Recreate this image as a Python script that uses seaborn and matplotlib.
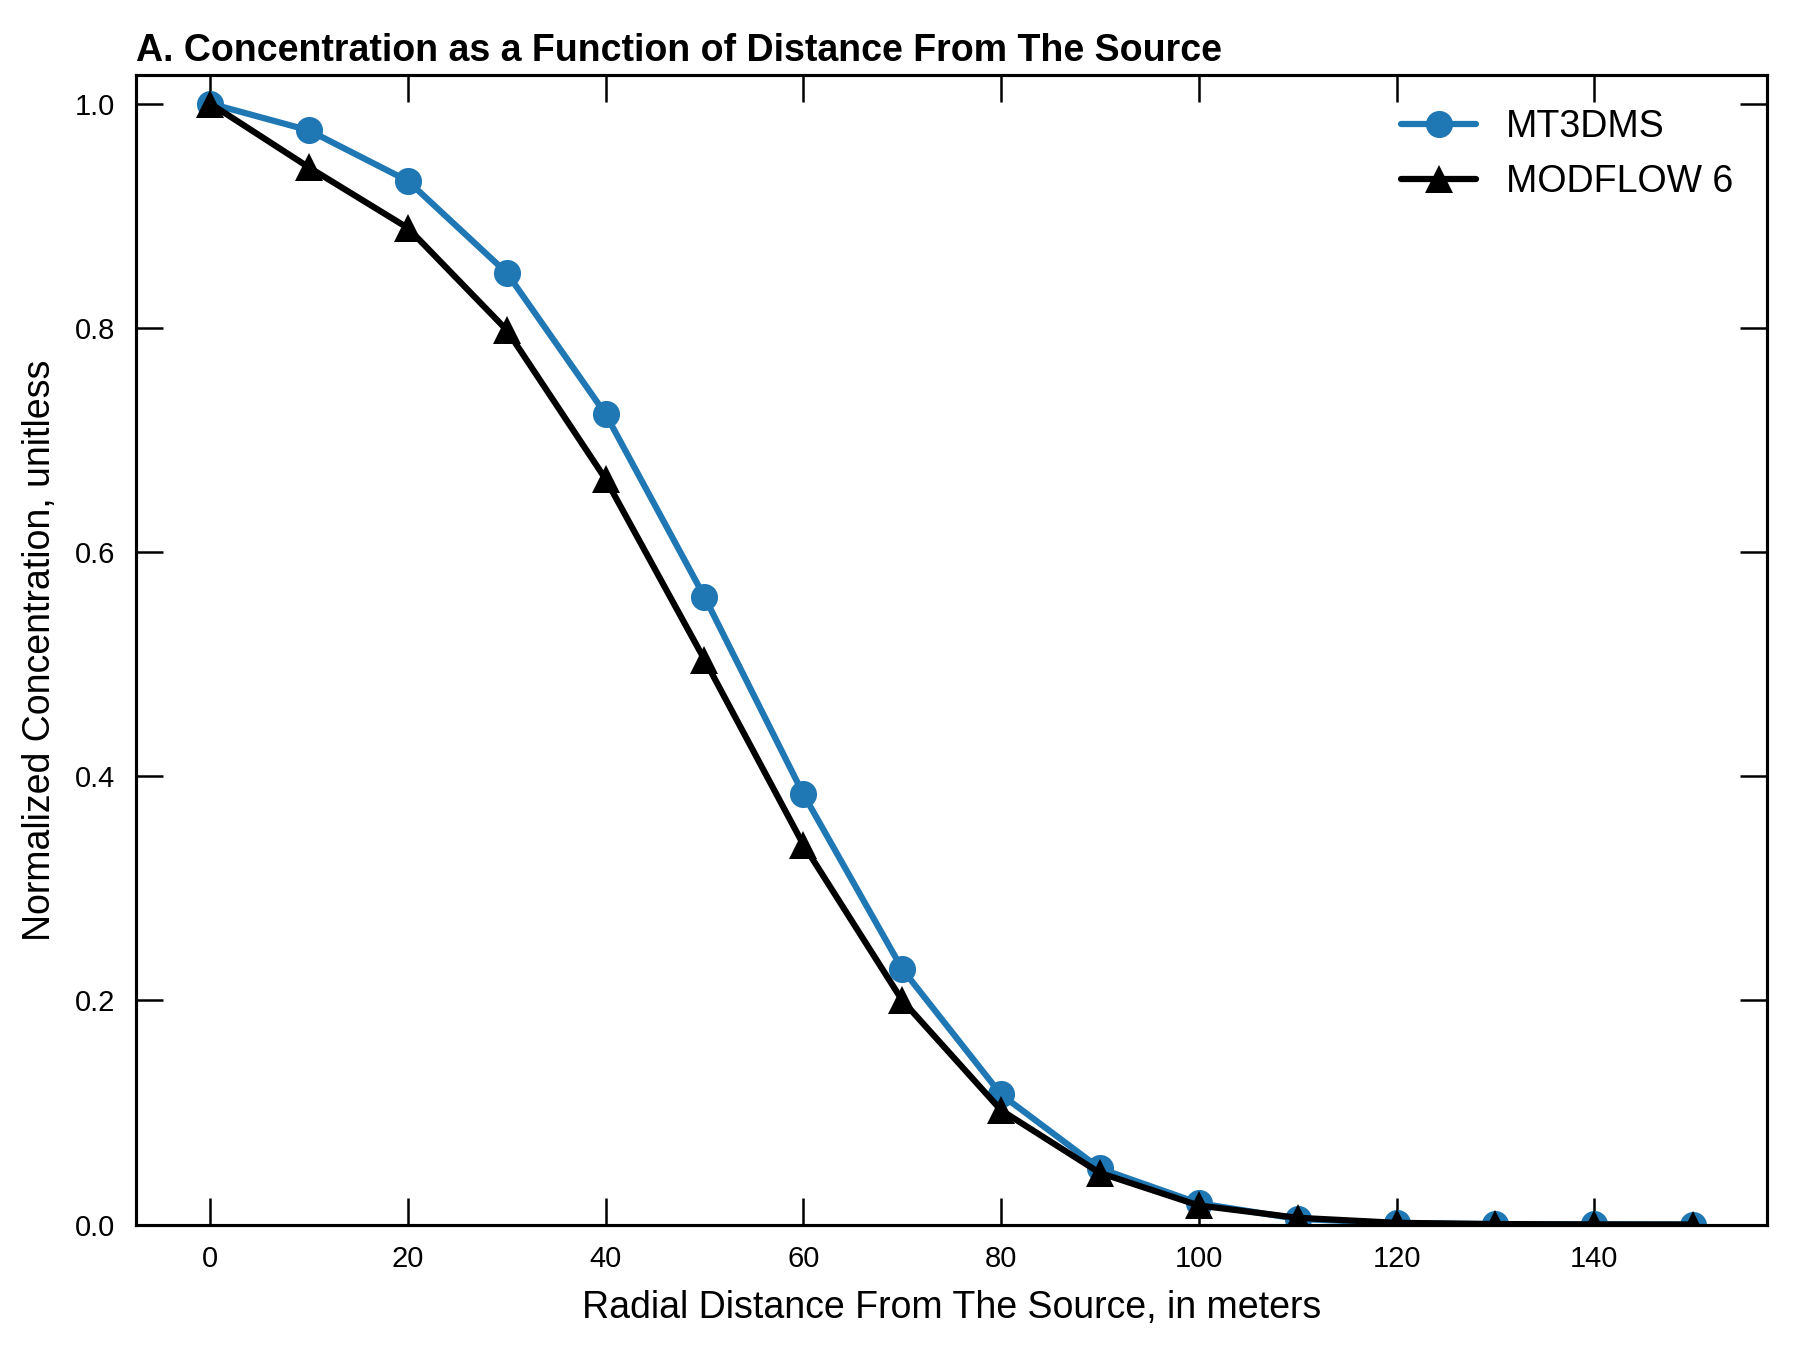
import pandas as pd
import matplotlib
matplotlib.use('Agg')
import matplotlib.pyplot as plt
import seaborn as sns

sns.set_style("ticks", {'axes.edgecolor': 'black', 'text.color': 'black',
                        'axes.labelcolor': 'black', 'xtick.color': 'black',
                        'ytick.color': 'black'})
plt.rcParams['font.family'] = ['Liberation Sans', 'DejaVu Sans']

# radial distance, meters
distance = [0, 10, 20, 30, 40, 50, 60, 70, 80, 90, 100, 110, 120, 130, 140, 150]
# normalized concentrations
mt3dms = [1.0, 0.976, 0.931, 0.849, 0.723, 0.560, 0.384, 0.228, 0.116, 0.050,
          0.019, 0.005, 0.0012, 0.0003, 0.0001, 0.0]
mf6 = [1.0, 0.943, 0.889, 0.798, 0.665, 0.504, 0.339, 0.200, 0.102, 0.046,
       0.017, 0.006, 0.0015, 0.0004, 0.0001, 0.0]

df = pd.DataFrame({'x': distance, 'mt3dms': mt3dms, 'mf6': mf6})

fig = plt.figure(figsize=(1796 / 300, 1348 / 300), dpi=300)
ax = fig.add_axes([0.0757, 0.0916, 0.9083, 0.8524])

sns.lineplot(data=df, x='x', y='mt3dms', ax=ax, color='#1f77b4', marker='o',
             markersize=6.5, markeredgewidth=0, linewidth=1.5, label='MT3DMS')
sns.lineplot(data=df, x='x', y='mf6', ax=ax, color='black', marker='^',
             markersize=6.5, markeredgewidth=0, linewidth=1.5, label='MODFLOW 6')

ax.set_ylim(0, 1.025)
ax.set_xlim(-7.5, 157.5)
ax.set_xticks([0, 20, 40, 60, 80, 100, 120, 140])
ax.set_yticks([0.0, 0.2, 0.4, 0.6, 0.8, 1.0])
ax.tick_params(direction='in', top=True, right=True, length=6.5, width=0.6,
               labelsize=7, pad=5, colors='black')
for sp in ax.spines.values():
    sp.set_linewidth(0.75)
    sp.set_color('black')

ax.set_xlabel('Radial Distance From The Source, in meters', fontsize=9, color='black')
ax.set_ylabel('Normalized Concentration, unitless', fontsize=9, color='black')
ax.set_title('A. Concentration as a Function of Distance From The Source',
             loc='left', fontsize=9, fontweight='bold', color='black', pad=3.5)
leg = ax.legend(loc='upper right', frameon=False, fontsize=9)
for t in leg.get_texts():
    t.set_color('black')

plt.savefig('out.png', dpi=300)
plt.close()
